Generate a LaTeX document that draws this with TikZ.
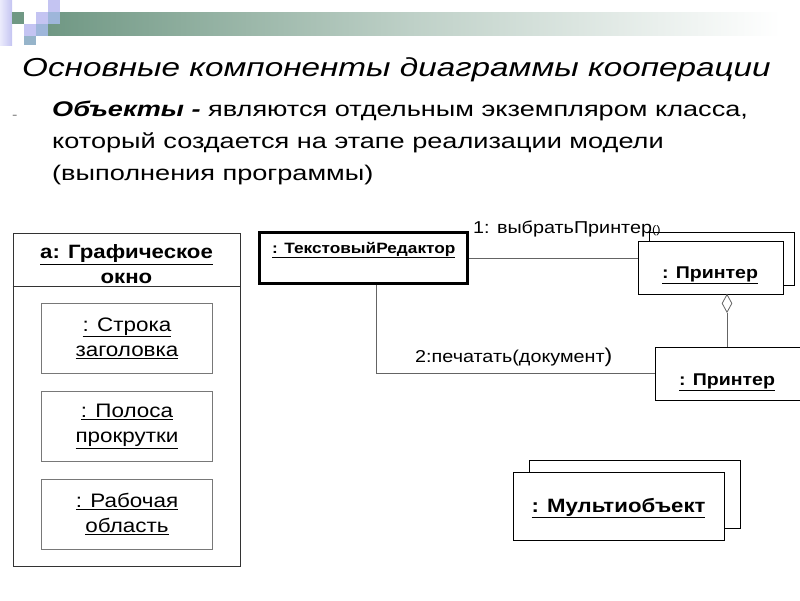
\documentclass[tikz,border=0pt]{standalone}
\usepackage{fontspec}
\setmainfont{Liberation Sans}[FakeStretch=1.15]
\newfontfamily\widefont{Liberation Sans}[FakeStretch=1.28]
\usetikzlibrary{shapes.geometric,calc}
\definecolor{bargreen}{RGB}{112,152,132}
\definecolor{lav}{RGB}{196,196,242}
\definecolor{lavl}{RGB}{222,222,250}
\definecolor{bluegray}{RGB}{158,182,218}
\definecolor{bluegray2}{RGB}{150,180,202}
\definecolor{linegray}{RGB}{100,100,100}
\definecolor{boxgray}{RGB}{120,120,120}
\begin{document}
\begin{tikzpicture}[x=1pt,y=-1pt,
  objbox/.style={draw=black, line width=0.8pt, fill=white, inner sep=0pt},
  innerbox/.style={draw=boxgray, line width=0.8pt, fill=white, inner sep=0pt, minimum width=171pt, minimum height=70pt, align=center, font=\fontsize{19.5}{25}\selectfont},
  conn/.style={draw=linegray, line width=0.8pt},
  msg/.style={inner sep=0pt, anchor=base west, font=\fontsize{17.2}{20}\selectfont},
  objtext/.style={inner sep=0pt, font=\bfseries\fontsize{17}{20}\selectfont},
  bodytext/.style={inner sep=0pt, anchor=base west, font=\widefont\fontsize{21.2}{26}\selectfont}
]
\useasboundingbox (0,0) rectangle (800,600);
% header decoration
\shade[left color=bargreen, right color=white, middle color=bargreen!45!white] (48,12) rectangle (780,35);
\shade[left color=lavl!60!white, right color=lav] (0,0) rectangle (12,45);
\fill[bargreen] (12,12) rectangle (24,24);
\fill[lav] (36,12) rectangle (48,24);
\fill[lav] (48,0) rectangle (60,12);
\fill[bluegray] (48,12) rectangle (60,24);
\fill[lav] (24,24) rectangle (36,36);
\fill[bluegray] (36,24) rectangle (48,36);
\fill[bluegray2] (24,36) rectangle (36,45);

% title and text
\node[inner sep=0pt, anchor=base west, font=\widefont\itshape\fontsize{26}{30}\selectfont] (title) at (22,76) {Основные компоненты диаграммы кооперации};
\node[inner sep=0pt, anchor=base west, text=gray, font=\fontsize{14}{16}\selectfont] (dash) at (12,119) {-};
\node[bodytext] (l1) at (52,116) {\textbf{\textit{Объекты -}} являются отдельным экземпляром класса,};
\node[bodytext] (l2) at (52,148) {который создается на этапе реализации модели};
\node[bodytext] (l3) at (52,180) {(выполнения программы)};

% left composite object
\node[draw=black!80, line width=0.8pt, minimum width=227pt, minimum height=333pt, inner sep=0pt] (win) at (126.5,399.5) {};
\coordinate (hdiv) at (0,286);
\draw[draw=black!80, line width=0.8pt] (win.west |- hdiv) -- (win.east |- hdiv);
\node[inner sep=0pt, align=center, font=\bfseries\fontsize{19.3}{25}\selectfont] (wintitle) at (126.5,264) {\underline{a: Графическое}\\окно};
\node[innerbox] (s1) at (127,338) {\underline{: Строка}\\\underline{заголовка}};
\node[innerbox] (s2) at (127,426.5) {\underline{: Полоса}\\\underline{прокрутки}};
\node[innerbox] (s3) at (127,514) {\underline{: Рабочая}\\\underline{область}};

% text editor
\node[draw=black, line width=2.2pt, minimum width=208pt, minimum height=51pt, inner sep=0pt] (te) at (363.5,258) {};
\node[inner sep=0pt, anchor=base west, font=\bfseries\fontsize{15}{17}\selectfont] (tetext) at (272,253) {\underline{: ТекстовыйРедактор}};

% printer (multi) 1
\node[objbox, minimum width=145pt, minimum height=53pt] (p1back) at (721.5,258.5) {};
\node[objbox, minimum width=145pt, minimum height=53pt] (p1) at (710.5,267.5) {};
\node[objtext] (p1text) at (710,275) {\underline{: Принтер}};

% aggregation diamond
\node[diamond, draw=linegray, fill=white, line width=0.8pt, inner sep=0pt, minimum width=10pt, minimum height=18pt, anchor=north] (agg) at (727,294) {};

% printer 2
\node[objbox, minimum width=150pt, minimum height=53pt] (p2) at (730,373.5) {};
\node[objtext] (p2text) at (727,382) {\underline{: Принтер}};

% connectors
\draw[conn] (te.east) -- (te.east -| p1.west);
\draw[conn] (agg.south) -- (agg.south |- p2.north);
\draw[conn] ([xshift=12.5pt]te.south) |- (p2.west);

% messages
\node[msg] (m1) at (473,233) {1: выбратьПринтер{\fontsize{11}{13}\selectfont()}};
\node[msg] (m2) at (415,362) {2:печатать(документ{\fontsize{20}{22}\selectfont)}};

% multiobject
\node[objbox, minimum width=211pt, minimum height=68pt] (mback) at (634.5,494) {};
\node[objbox, minimum width=211pt, minimum height=68pt] (mfront) at (618.5,506) {};
\node[inner sep=0pt, font=\bfseries\fontsize{19.3}{24}\selectfont] (mtext) at (618.5,508) {\underline{: Мультиобъект}};
\end{tikzpicture}
\end{document}
